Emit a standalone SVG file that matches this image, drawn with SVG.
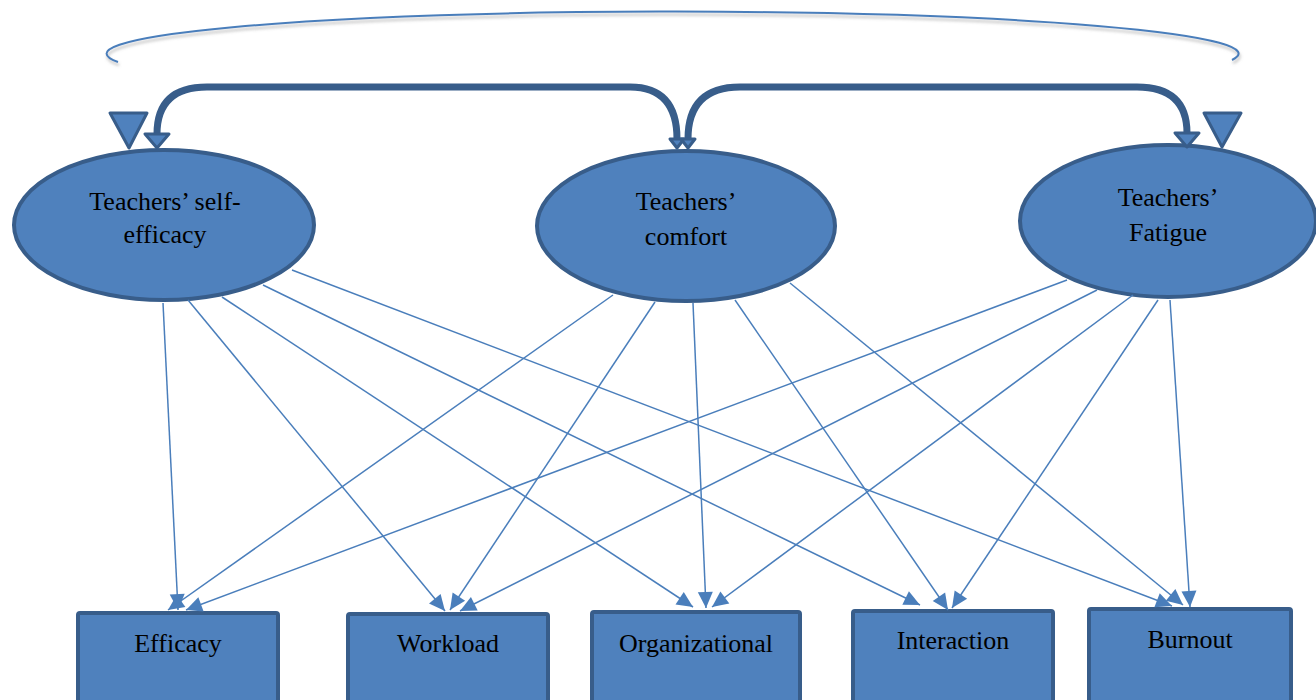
<svg xmlns="http://www.w3.org/2000/svg" width="1316" height="700" viewBox="0 0 1316 700">
<style>
.node{fill:#4f81bd;stroke:#385d8a;stroke-width:4}
.lbl{font-family:"Liberation Serif","Times New Roman",serif;font-size:26px;fill:#000;text-anchor:middle}
.thin{fill:none;stroke:#4a7ebb;stroke-width:1.5;marker-end:url(#ah)}
.thick{fill:none;stroke:#385d8a;stroke-width:7}
.tri{fill:#4f81bd;stroke:#385d8a;stroke-width:3;stroke-linejoin:round}
</style>
<defs>
<marker id="ah" markerUnits="userSpaceOnUse" viewBox="-17 -9 18 18" markerWidth="18" markerHeight="18" refX="0" refY="0" orient="auto">
<polygon points="0,0 -16,-7.5 -16,7.5" fill="#4a7ebb"/>
</marker>
<marker id="big" markerUnits="userSpaceOnUse" viewBox="-3 -16 20 32" markerWidth="20" markerHeight="32" refX="0" refY="0" orient="auto-start-reverse">
<polygon points="0,-12 14,0 0,12" fill="#4f81bd" stroke="#385d8a" stroke-width="3" stroke-linejoin="round"/>
</marker>
<marker id="small" markerUnits="userSpaceOnUse" viewBox="-3 -12 16 24" markerWidth="16" markerHeight="24" refX="0" refY="0" orient="auto-start-reverse">
<polygon points="0,-7 9,0 0,7" fill="#4f81bd" stroke="#385d8a" stroke-width="3" stroke-linejoin="round"/>
</marker>
<filter id="sh" x="-5%" y="-50%" width="110%" height="200%">
<feDropShadow dx="1" dy="3" stdDeviation="1.5" flood-color="#808080" flood-opacity="0.5"/>
</filter>
</defs>

<g id="n-selfefficacy">
<ellipse class="node" cx="164" cy="225" rx="150" ry="75"/>
<text class="lbl" x="165" y="210">Teachers’ self-</text>
<text class="lbl" x="165" y="243">efficacy</text>
</g>
<g id="n-comfort">
<ellipse class="node" cx="686" cy="226" rx="149" ry="75"/>
<text class="lbl" x="686" y="210">Teachers’</text>
<text class="lbl" x="686" y="245">comfort</text>
</g>
<g id="n-fatigue">
<ellipse class="node" cx="1168" cy="221" rx="148" ry="76"/>
<text class="lbl" x="1168" y="206">Teachers’</text>
<text class="lbl" x="1168" y="241">Fatigue</text>
</g>

<g id="n-efficacy">
<rect class="node" x="78" y="613" width="200" height="100" rx="2"/>
<text class="lbl" x="178" y="652">Efficacy</text>
</g>
<g id="n-workload">
<rect class="node" x="348" y="614" width="200" height="100" rx="2"/>
<text class="lbl" x="448" y="652">Workload</text>
</g>
<g id="n-organizational">
<rect class="node" x="592" y="612" width="208" height="100" rx="2"/>
<text class="lbl" x="696" y="652">Organizational</text>
</g>
<g id="n-interaction">
<rect class="node" x="853" y="611" width="200" height="100" rx="2"/>
<text class="lbl" x="953" y="649">Interaction</text>
</g>
<g id="n-burnout">
<rect class="node" x="1089" y="609" width="202" height="100" rx="2"/>
<text class="lbl" x="1190" y="648">Burnout</text>
</g>

<g id="connectors">
<path d="M118,62 A566,42 0 1 1 1232,60" fill="none" stroke="#4a7ebb" stroke-width="2" filter="url(#sh)"/>
<polygon class="tri" points="110,113 147,113 129,148"/>
<polygon class="tri" points="1204,113 1241,113 1222,147"/>
<path class="thick" d="M157,134 Q157,87 207,87 H630 Q677,87 677,139" marker-start="url(#big)" marker-end="url(#small)"/>
<path class="thick" d="M688,139 Q688,87 740,87 H1137 Q1187,87 1187,133" marker-start="url(#small)" marker-end="url(#big)"/>

<path class="thin" d="M163,303 L178,610"/>
<path class="thin" d="M188,300 L445,611"/>
<path class="thin" d="M222,297 L693,607"/>
<path class="thin" d="M263,285 L920,605"/>
<path class="thin" d="M292,270 L1172,606"/>

<path class="thin" d="M613,295 L168,610"/>
<path class="thin" d="M655,302 L450,610"/>
<path class="thin" d="M693,303 L706,608"/>
<path class="thin" d="M735,300 L948,610"/>
<path class="thin" d="M790,283 L1183,605"/>

<path class="thin" d="M1067,280 L186,610"/>
<path class="thin" d="M1097,290 L460,611"/>
<path class="thin" d="M1133,295 L712,607"/>
<path class="thin" d="M1158,300 L952,608"/>
<path class="thin" d="M1170,300 L1190,607"/>
</g>
</svg>
